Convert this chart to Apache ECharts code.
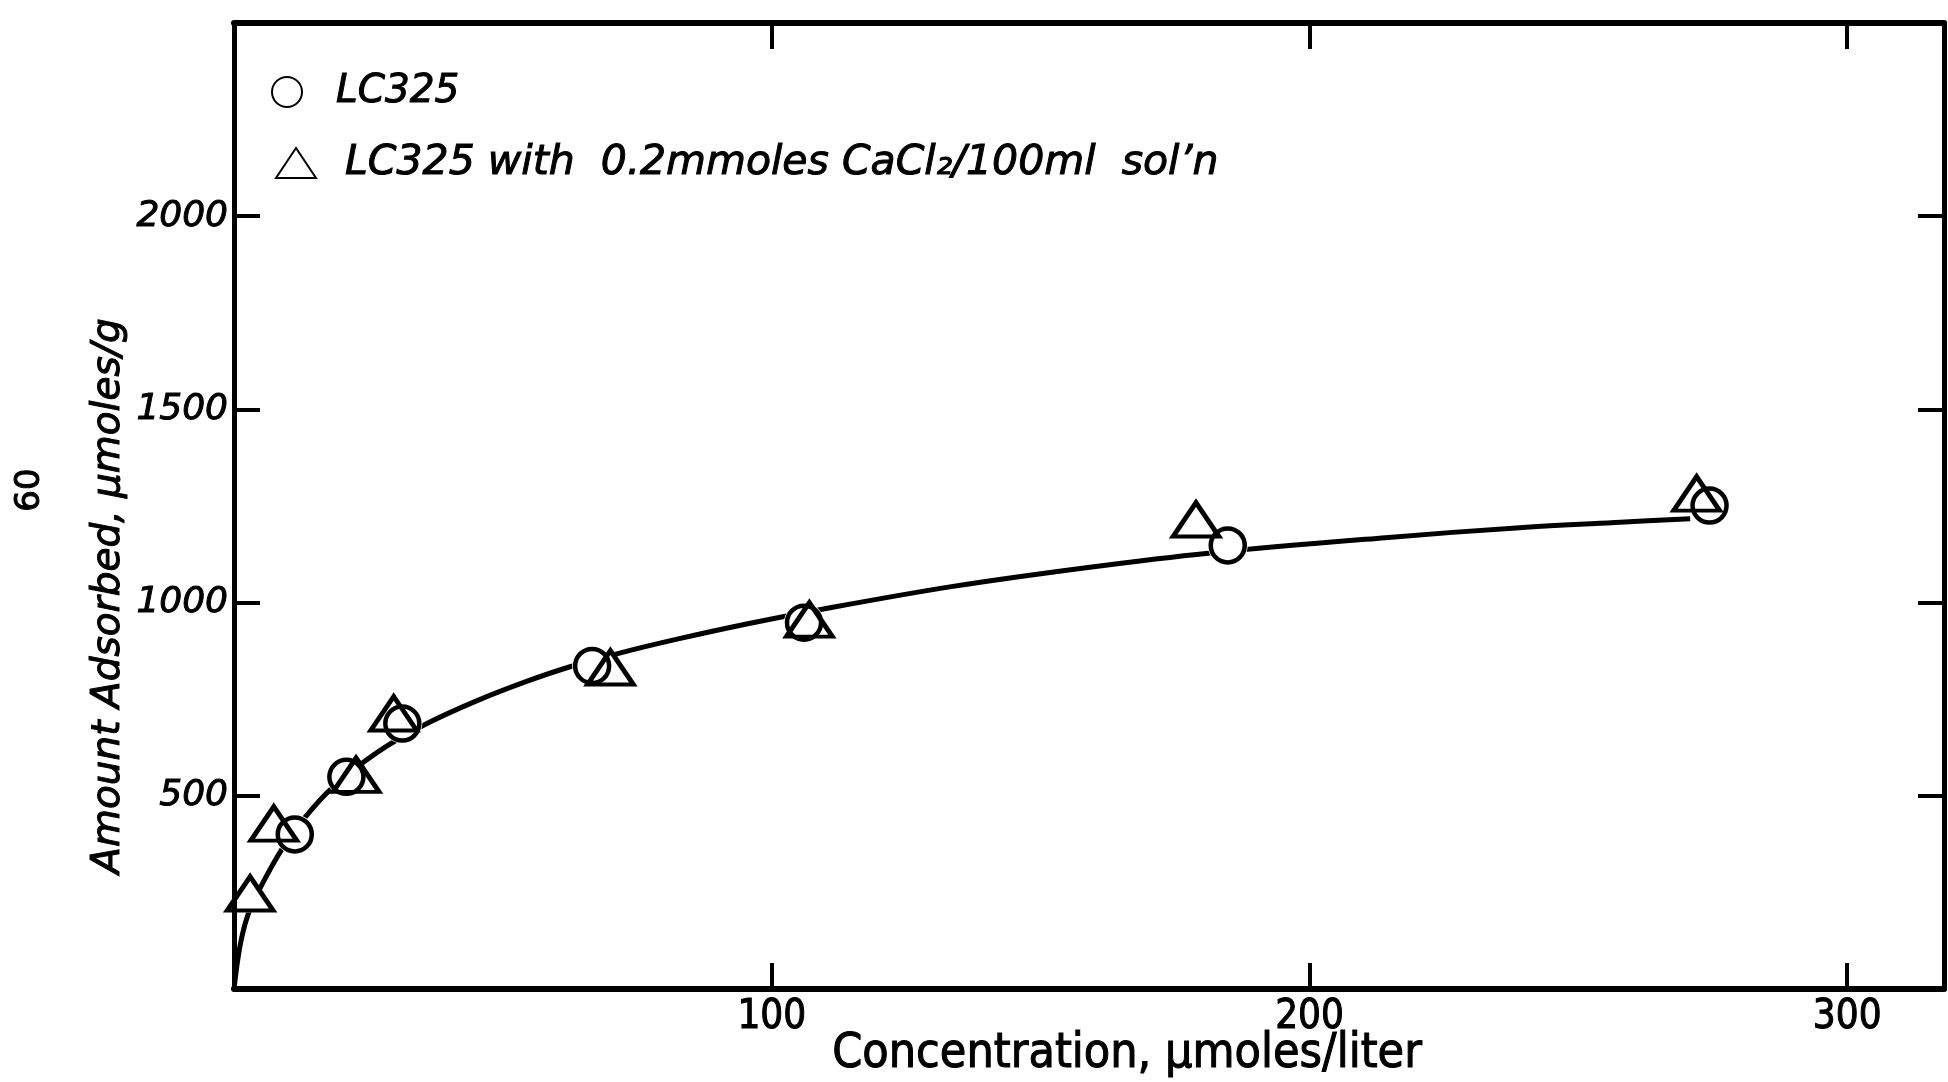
<!DOCTYPE html>
<html>
<head>
<meta charset="utf-8">
<script src="https://cdn.jsdelivr.net/npm/echarts@6/dist/echarts.min.js"></script>
<style>
  html, body { margin: 0; padding: 0; background: #fff; }
  #chart { width: 1948px; height: 1082px; }
</style>
</head>
<body>
<div id="chart"></div>
<script>
// Adsorption isotherm of LC325, with and without CaCl2
const lc325X = [11.3, 20.9, 31.3, 66.6, 106, 184.8, 274.4];
const lc325Y = [400, 549, 687, 836, 948, 1148, 1251];

const caCl2X = [3.0, 7.4, 22.7, 29.7, 70.0, 107, 178.9, 272.0];
const caCl2Y = [247, 428, 554, 713, 832, 956, 1215, 1282];

// hand-fitted isotherm curve
const curveX = [0, 1.1, 2.5, 4.7, 9.0, 13.2, 18.2, 26.7, 35.6, 45.0, 54.4, 62.5, 71.9, 82.6, 95.1, 109.4, 133.7, 158.8, 181.2, 214.1, 239.1, 257.8, 270.8];
const curveY = [0, 110, 188, 257, 364, 444, 520, 613, 685, 745, 796, 834, 870, 906, 944, 983, 1042, 1091, 1128, 1168, 1194, 1208, 1217];

const xTicks = [100, 200, 300];
const yTicks = [500, 1000, 1500, 2000];

const seriesNameA = 'LC325';
const seriesNameB = 'LC325 with  0.2mmoles CaCl\u2082/100ml  sol\u2019n';

const pairs = (xs, ys) => xs.map((x, i) => [x, ys[i]]);

const ink = '#000';
const italicFont = 'DejaVu Sans';
const narrowFont = '"Liberation Sans Narrow", "DejaVu Sans Condensed", "Liberation Sans", sans-serif';
// a thin outline in the ink colour gives the lettering a pen-drawn weight
const pen = { textBorderColor: ink, textBorderWidth: 1 };

const chart = echarts.init(document.getElementById('chart'));

const frameAxis = (extra) => Object.assign({
  type: 'value',
  z: 10,
  splitLine: { show: false },
  axisLine: { show: true, onZero: false, lineStyle: { color: ink, width: 6 } },
  axisTick: { show: true, inside: true, length: 26, lineStyle: { color: ink, width: 4 } },
  axisLabel: { show: false }
}, extra);

chart.setOption({
  backgroundColor: '#fff',
  animation: false,
  grid: { left: 234, right: 4, top: 23, bottom: 93, containLabel: false, outerBoundsMode: 'none' },
  legend: [
    {
      left: 266, top: 67,
      itemWidth: 40, itemHeight: 30,
      data: [{ name: seriesNameA, icon: 'circle' }],
      textStyle: Object.assign({ fontFamily: italicFont, fontStyle: 'italic', fontSize: 39, color: ink, lineHeight: 30, padding: [0, 0, 0, 24] }, pen)
    },
    {
      left: 270, top: 137,
      itemWidth: 40, itemHeight: 30,
      data: [{ name: seriesNameB, icon: 'triangle' }],
      textStyle: Object.assign({ fontFamily: italicFont, fontStyle: 'italic', fontSize: 41, color: ink, lineHeight: 30, padding: [0, 0, 0, 24] }, pen)
    }
  ],
  xAxis: [
    frameAxis({
      position: 'bottom',
      min: 0, max: 318, interval: 100,
      axisLabel: Object.assign({
        show: true, margin: 9,
        fontFamily: narrowFont, fontSize: 40, color: ink,
        formatter: v => (xTicks.indexOf(v) >= 0 ? String(v) : '')
      }, pen),
      name: 'Concentration, \u03bcmoles/liter',
      nameLocation: 'middle', nameGap: 42, nameMoveOverlap: false,
      nameTextStyle: Object.assign({ fontFamily: narrowFont, fontSize: 48, color: ink, padding: [0, 0, 0, 76] }, pen)
    }),
    frameAxis({ position: 'top', min: 0, max: 318, interval: 100 })
  ],
  yAxis: [
    frameAxis({
      position: 'left',
      min: 0, max: 2500, interval: 500,
      axisLine: { show: true, onZero: false, lineStyle: { color: ink, width: 5 } },
      axisLabel: Object.assign({
        show: true, margin: 6,
        fontFamily: italicFont, fontStyle: 'italic', fontSize: 36, color: ink,
        formatter: v => (yTicks.indexOf(v) >= 0 ? String(v) : '')
      }, pen),
      name: 'Amount Adsorbed, \u03bcmoles/g',
      nameLocation: 'middle', nameGap: 106, nameRotate: 90, nameMoveOverlap: false,
      nameTextStyle: Object.assign({ fontFamily: italicFont, fontStyle: 'italic', fontSize: 39, color: ink, padding: [0, 180, 0, 0] }, pen)
    }),
    frameAxis({
      position: 'right',
      min: 0, max: 2500, interval: 500,
      axisLine: { show: true, onZero: false, lineStyle: { color: ink, width: 5 } }
    })
  ],
  graphic: [
    {
      type: 'text', x: 30, y: 490, rotation: Math.PI / 2,
      style: { text: '60', fontFamily: 'DejaVu Sans', fontSize: 34, fill: ink, stroke: ink, lineWidth: 1, align: 'center', verticalAlign: 'middle' }
    }
  ],
  series: [
    {
      name: 'curve', type: 'line', z: 2,
      data: pairs(curveX, curveY),
      showSymbol: false, symbol: 'none',
      smooth: 0.35,
      lineStyle: { color: ink, width: 5 },
      silent: true
    },
    // white backing under the markers so the curve breaks at each point
    {
      name: 'maskA', type: 'scatter', z: 3, silent: true,
      data: pairs(lc325X, lc325Y), symbol: 'circle', symbolSize: 40,
      itemStyle: { color: '#fff', borderWidth: 0, opacity: 1 }
    },
    {
      name: 'maskB', type: 'scatter', z: 3, silent: true,
      data: pairs(caCl2X, caCl2Y), symbol: 'triangle', symbolSize: [50, 38],
      itemStyle: { color: '#fff', borderWidth: 0, opacity: 1 }
    },
    {
      name: seriesNameA, type: 'scatter', z: 4,
      data: pairs(lc325X, lc325Y), symbol: 'circle', symbolSize: 34,
      itemStyle: { color: 'rgba(255,255,255,0)', borderColor: ink, borderWidth: 4.5, opacity: 1 }
    },
    {
      name: seriesNameB, type: 'scatter', z: 4,
      data: pairs(caCl2X, caCl2Y), symbol: 'triangle', symbolSize: [46, 34],
      itemStyle: { color: 'rgba(255,255,255,0)', borderColor: ink, borderWidth: 4.5, opacity: 1 }
    }
  ]
});
</script>
</body>
</html>
